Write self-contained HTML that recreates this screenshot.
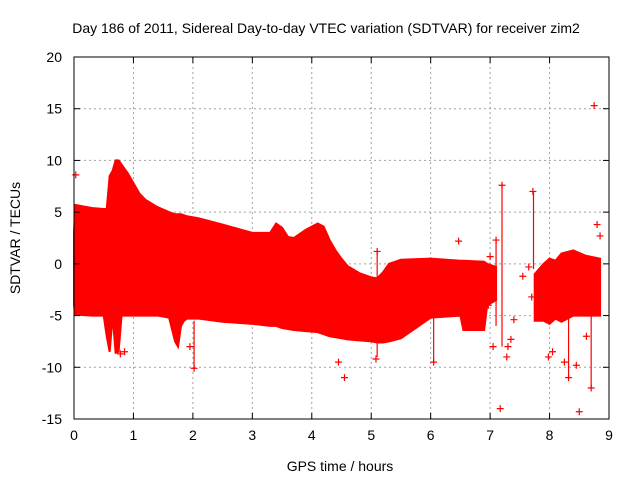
<!DOCTYPE html>
<html><head><meta charset="utf-8"><style>
body{margin:0;background:#fff}
svg{display:block;font-family:"Liberation Sans",sans-serif}
</style></head><body>
<svg id="c" width="640" height="480">
<text x="326" y="33" font-size="14" text-anchor="middle">Day 186 of 2011, Sidereal Day-to-day VTEC variation (SDTVAR) for receiver zim2</text>
<text x="340" y="471" font-size="14" text-anchor="middle">GPS time / hours</text>
<text transform="translate(20,238) rotate(-90)" font-size="14" text-anchor="middle">SDTVAR / TECUs</text>
<g id="grid"></g><g id="marks"></g><g id="axes"></g>
</svg>
<script>
const xTicks=[0,1,2,3,4,5,6,7,8,9];
const yTicks=[-15,-10,-5,0,5,10,15,20];
const band1Times=[0,0.02,0.3,0.5,0.55,0.6,0.65,0.7,0.75,0.8,0.9,1.0,1.1,1.2,1.4,1.6,1.7,1.75,1.8,1.85,1.9,2.1,2.5,3.0,3.3,3.4,3.5,3.6,3.7,3.9,4.1,4.2,4.3,4.4,4.5,4.6,4.8,5.0,5.1,5.2,5.3,5.5,6.0,6.5,6.55,6.9,6.95,7.1];
const band1Upper=[3,5.7,5.4,5.3,5.3,8.5,9,10,10,9.6,8.8,7.8,6.8,6.2,5.5,5,4.8,4.8,4.8,4.7,4.6,4.4,3.8,3.0,3.0,3.9,3.5,2.6,2.5,3.3,3.9,3.6,2.3,1.3,0.5,-0.2,-0.9,-1.3,-1.4,-0.8,0,0.4,0.5,0.3,0.3,0.2,0.0,-0.3];
const band1Lower=[-4,-4.9,-5,-5,-7,-8.5,-5,-8.6,-8.5,-5,-5,-5,-5,-5,-5,-5.2,-7.5,-8,-6,-5.5,-5.3,-5.3,-5.6,-5.8,-6,-6,-6.2,-6.3,-6.4,-6.5,-6.6,-6.8,-7,-7.1,-7.2,-7.3,-7.4,-7.5,-7.6,-7.6,-7.5,-7.2,-5.2,-5,-6.4,-6.4,-4,-3.5];
const band2Times=[7.75,7.9,8.0,8.1,8.2,8.4,8.6,8.85];
const band2Upper=[-1,0,0.5,0.3,1.0,1.3,0.8,0.5];
const band2Lower=[-5.5,-5.5,-5.8,-5.3,-5.6,-5,-5,-5];
const outlierTimes=[0.03,2.02,4.55,4.45,5.08,5.1,6.05,6.47,7.05,7.17,7.2,7.3,7.28,7.72,7.1,7.0,8.5,8.75,8.7,8.85,8.8,8.32,7.7,7.65,7.98,8.62,7.55,7.4,6.97,0.78,0.85,1.95,7.35,8.05,8.25,8.45];
const outlierValues=[8.6,-10.1,-11,-9.5,-9.2,1.2,-9.5,2.2,-8,-14,7.6,-8,-9,7,2.3,0.7,-14.3,15.3,-12,2.7,3.8,-11,-3.2,-0.3,-9,-7,-1.2,-5.4,-4,-8.7,-8.5,-8,-7.3,-8.5,-9.5,-9.8];
const segTimes=[7.2,7.73,8.7,5.1,6.05,2.02,8.32,7.1];
const segLows=[-8,-0.5,-12,-9,-9.5,-10,-11,-6];
const segHighs=[7.6,7,-3,1.3,-1,-5.5,-3,2.3];
const X0=74,X1=609,Y0=419,Y1=57;
const xs=v=>X0+(v-0)/9*(X1-X0);
const ys=v=>Y0-(v+15)/35*(Y0-Y1);
const NS="http://www.w3.org/2000/svg";
function mk(tag,attrs,parent){const e=document.createElementNS(NS,tag);for(const k in attrs)e.setAttribute(k,attrs[k]);document.getElementById(parent).appendChild(e);return e;}
xTicks.forEach(t=>{
 if(t>0&&t<9){const g=mk('line',{x1:xs(t),x2:xs(t),y1:Y1,y2:Y0,stroke:'#a0a0a0','stroke-dasharray':'2,3'},'grid');
 
 }
 const l=mk('text',{x:xs(t),y:Y0+21,'font-size':14,'text-anchor':'middle'},'axes');l.textContent=t;
 
 
 mk('line',{x1:xs(t),x2:xs(t),y1:Y0,y2:Y0-6,stroke:'#000'},'axes');
 mk('line',{x1:xs(t),x2:xs(t),y1:Y1,y2:Y1+6,stroke:'#000'},'axes');
});
yTicks.forEach(t=>{
 if(t>-15&&t<20){const g=mk('line',{x1:X0,x2:X1,y1:ys(t),y2:ys(t),stroke:'#a0a0a0','stroke-dasharray':'2,3'},'grid');
 
 }
 const l=mk('text',{x:X0-12,y:ys(t)+5,'font-size':14,'text-anchor':'end'},'axes');l.textContent=t;
 
 
 mk('line',{x1:X0,x2:X0+6,y1:ys(t),y2:ys(t),stroke:'#000'},'axes');
 mk('line',{x1:X1,x2:X1-6,y1:ys(t),y2:ys(t),stroke:'#000'},'axes');
});
const border=mk('rect',{x:X0,y:Y1,width:X1-X0,height:Y0-Y1,fill:'none',stroke:'#000'},'axes');


function band(T,U,L,name){
 let d='M'+T.map((t,i)=>xs(t)+','+ys(U[i])).join(' L');
 d+=' L'+T.map((t,i)=>xs(t)+','+ys(L[i])).reverse().join(' L')+'Z';
 const p=mk('path',{d:d,fill:'#ff0000',stroke:'#ff0000','stroke-width':2},'marks');
 
 
}
band(band1Times,band1Upper,band1Lower,'sdtvar-band-main');
band(band2Times,band2Upper,band2Lower,'sdtvar-band-late');
segTimes.forEach((t,i)=>{
 const s=mk('line',{x1:xs(t),x2:xs(t),y1:ys(segLows[i]),y2:ys(segHighs[i]),stroke:'#ff0000','stroke-width':1.2},'marks');
 
 
});
outlierTimes.forEach((t,i)=>{
 const x=xs(t),y=ys(outlierValues[i]);
 const p=mk('path',{d:`M${x-3.5},${y}H${x+3.5}M${x},${y-3.5}V${y+3.5}`,stroke:'#ff0000','stroke-width':1.2},'marks');
 
 
});
</script>
</body></html>
